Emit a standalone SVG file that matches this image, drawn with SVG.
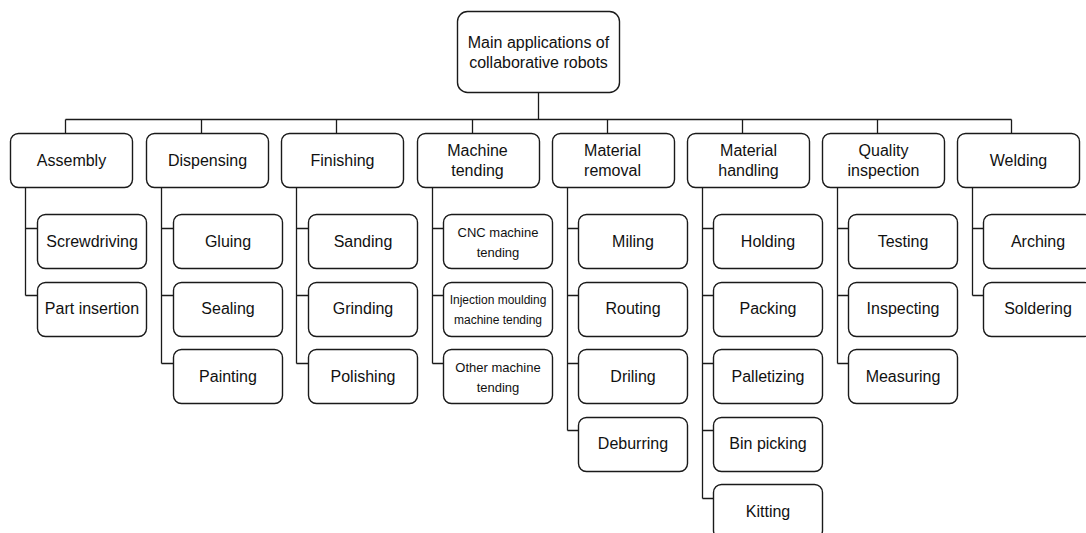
<svg xmlns="http://www.w3.org/2000/svg" width="1086" height="533" viewBox="0 0 1086 533">
  <style>
    .box { fill: #ffffff; stroke: #1a1a1a; stroke-width: 1.4; }
    .wire { fill: none; stroke: #1a1a1a; stroke-width: 1.3; }
    text { font-family: "Liberation Sans", Arial, sans-serif; fill: #111111; text-anchor: middle; }
    .t16 { font-size: 16px; }
    .t13 { font-size: 13px; }
    .t12 { font-size: 12px; }
  </style>
  <rect width="1086" height="533" fill="#ffffff"/>

  <!-- connectors -->
  <g id="connectors" class="wire">
    <!-- root to bus -->
    <path d="M538.5 92 V119.5"/>
    <path d="M65.5 119.5 H1011.5"/>
    <!-- bus to categories -->
    <path d="M65.5 119.5 V133 M201.5 119.5 V133 M336.5 119.5 V133 M472.5 119.5 V133 M607.5 119.5 V133 M742.5 119.5 V133 M877.5 119.5 V133 M1011.5 119.5 V133"/>
    <!-- Assembly -->
    <path d="M25.5 187 V228.5 H37 M25.5 295.5 H37 M25.5 228 V295.5"/>
    <!-- Dispensing -->
    <path d="M161.5 187 V363.5 M161.5 228.5 H173 M161.5 295.5 H173 M161.5 363.5 H173"/>
    <!-- Finishing -->
    <path d="M296.5 187 V363.5 M296.5 228.5 H308 M296.5 295.5 H308 M296.5 363.5 H308"/>
    <!-- Machine tending -->
    <path d="M432.5 187 V363.5 M432.5 228.5 H444 M432.5 295.5 H444 M432.5 363.5 H444"/>
    <!-- Material removal -->
    <path d="M567.5 187 V430.5 M567.5 228.5 H579 M567.5 295.5 H579 M567.5 363.5 H579 M567.5 430.5 H579"/>
    <!-- Material handling -->
    <path d="M702.5 187 V498.5 M702.5 228.5 H714 M702.5 295.5 H714 M702.5 363.5 H714 M702.5 430.5 H714 M702.5 498.5 H714"/>
    <!-- Quality inspection -->
    <path d="M837.5 187 V363.5 M837.5 228.5 H849 M837.5 295.5 H849 M837.5 363.5 H849"/>
    <!-- Welding -->
    <path d="M972.5 187 V295.5 M972.5 228.5 H984 M972.5 295.5 H984"/>
  </g>

  <!-- root -->
  <g id="root">
    <rect class="box" x="457.5" y="11.5" width="162" height="81" rx="10"/>
    <text class="t16" x="538.5" y="47.5">Main applications of</text>
    <text class="t16" x="538.5" y="67.5">collaborative robots</text>
  </g>

  <!-- categories -->
  <g id="cat-assembly">
    <rect class="box" x="10.5" y="133.5" width="122" height="54" rx="8"/>
    <text class="t16" x="71.5" y="166">Assembly</text>
  </g>
  <g id="cat-dispensing">
    <rect class="box" x="146.5" y="133.5" width="122" height="54" rx="8"/>
    <text class="t16" x="207.5" y="166">Dispensing</text>
  </g>
  <g id="cat-finishing">
    <rect class="box" x="281.5" y="133.5" width="122" height="54" rx="8"/>
    <text class="t16" x="342.5" y="166">Finishing</text>
  </g>
  <g id="cat-machine-tending">
    <rect class="box" x="417.5" y="133.5" width="122" height="54" rx="8"/>
    <text class="t16" x="477.5" y="156">Machine</text>
    <text class="t16" x="477.5" y="175.5">tending</text>
  </g>
  <g id="cat-material-removal">
    <rect class="box" x="552.5" y="133.5" width="122" height="54" rx="8"/>
    <text class="t16" x="612.5" y="156">Material</text>
    <text class="t16" x="612.5" y="175.5">removal</text>
  </g>
  <g id="cat-material-handling">
    <rect class="box" x="687.5" y="133.5" width="122" height="54" rx="8"/>
    <text class="t16" x="748.5" y="156">Material</text>
    <text class="t16" x="748.5" y="175.5">handling</text>
  </g>
  <g id="cat-quality-inspection">
    <rect class="box" x="822.5" y="133.5" width="122" height="54" rx="8"/>
    <text class="t16" x="883.5" y="156">Quality</text>
    <text class="t16" x="883.5" y="175.5">inspection</text>
  </g>
  <g id="cat-welding">
    <rect class="box" x="957.5" y="133.5" width="122" height="54" rx="8"/>
    <text class="t16" x="1018.5" y="166">Welding</text>
  </g>

  <!-- Assembly children -->
  <g id="screwdriving">
    <rect class="box" x="37.5" y="214.5" width="109" height="54" rx="8"/>
    <text class="t16" x="92" y="246.5">Screwdriving</text>
  </g>
  <g id="part-insertion">
    <rect class="box" x="37.5" y="282.5" width="109" height="54" rx="8"/>
    <text class="t16" x="92" y="314">Part insertion</text>
  </g>

  <!-- Dispensing children -->
  <g id="gluing">
    <rect class="box" x="173.5" y="214.5" width="109" height="54" rx="8"/>
    <text class="t16" x="228" y="246.5">Gluing</text>
  </g>
  <g id="sealing">
    <rect class="box" x="173.5" y="282.5" width="109" height="54" rx="8"/>
    <text class="t16" x="228" y="314">Sealing</text>
  </g>
  <g id="painting">
    <rect class="box" x="173.5" y="349.5" width="109" height="54" rx="8"/>
    <text class="t16" x="228" y="381.5">Painting</text>
  </g>

  <!-- Finishing children -->
  <g id="sanding">
    <rect class="box" x="308.5" y="214.5" width="109" height="54" rx="8"/>
    <text class="t16" x="363" y="246.5">Sanding</text>
  </g>
  <g id="grinding">
    <rect class="box" x="308.5" y="282.5" width="109" height="54" rx="8"/>
    <text class="t16" x="363" y="314">Grinding</text>
  </g>
  <g id="polishing">
    <rect class="box" x="308.5" y="349.5" width="109" height="54" rx="8"/>
    <text class="t16" x="363" y="381.5">Polishing</text>
  </g>

  <!-- Machine tending children -->
  <g id="cnc-tending">
    <rect class="box" x="443.5" y="214.5" width="109" height="54" rx="8"/>
    <text class="t13" x="498" y="236.5">CNC machine</text>
    <text class="t13" x="498" y="256.5">tending</text>
  </g>
  <g id="injection-tending">
    <rect class="box" x="443.5" y="282.5" width="109" height="54" rx="8"/>
    <text class="t12" x="498" y="304">Injection moulding</text>
    <text class="t12" x="498" y="324">machine tending</text>
  </g>
  <g id="other-tending">
    <rect class="box" x="443.5" y="349.5" width="109" height="54" rx="8"/>
    <text class="t13" x="498" y="371.5">Other machine</text>
    <text class="t13" x="498" y="391.5">tending</text>
  </g>

  <!-- Material removal children -->
  <g id="milling">
    <rect class="box" x="578.5" y="214.5" width="109" height="54" rx="8"/>
    <text class="t16" x="633" y="246.5">Miling</text>
  </g>
  <g id="routing">
    <rect class="box" x="578.5" y="282.5" width="109" height="54" rx="8"/>
    <text class="t16" x="633" y="314">Routing</text>
  </g>
  <g id="drilling">
    <rect class="box" x="578.5" y="349.5" width="109" height="54" rx="8"/>
    <text class="t16" x="633" y="381.5">Driling</text>
  </g>
  <g id="deburring">
    <rect class="box" x="578.5" y="417.5" width="109" height="54" rx="8"/>
    <text class="t16" x="633" y="449">Deburring</text>
  </g>

  <!-- Material handling children -->
  <g id="holding">
    <rect class="box" x="713.5" y="214.5" width="109" height="54" rx="8"/>
    <text class="t16" x="768" y="246.5">Holding</text>
  </g>
  <g id="packing">
    <rect class="box" x="713.5" y="282.5" width="109" height="54" rx="8"/>
    <text class="t16" x="768" y="314">Packing</text>
  </g>
  <g id="palletizing">
    <rect class="box" x="713.5" y="349.5" width="109" height="54" rx="8"/>
    <text class="t16" x="768" y="381.5">Palletizing</text>
  </g>
  <g id="bin-picking">
    <rect class="box" x="713.5" y="417.5" width="109" height="54" rx="8"/>
    <text class="t16" x="768" y="449">Bin picking</text>
  </g>
  <g id="kitting">
    <rect class="box" x="713.5" y="484.5" width="109" height="54" rx="8"/>
    <text class="t16" x="768" y="516.5">Kitting</text>
  </g>

  <!-- Quality inspection children -->
  <g id="testing">
    <rect class="box" x="848.5" y="214.5" width="109" height="54" rx="8"/>
    <text class="t16" x="903" y="246.5">Testing</text>
  </g>
  <g id="inspecting">
    <rect class="box" x="848.5" y="282.5" width="109" height="54" rx="8"/>
    <text class="t16" x="903" y="314">Inspecting</text>
  </g>
  <g id="measuring">
    <rect class="box" x="848.5" y="349.5" width="109" height="54" rx="8"/>
    <text class="t16" x="903" y="381.5">Measuring</text>
  </g>

  <!-- Welding children -->
  <g id="arching">
    <rect class="box" x="983.5" y="214.5" width="109" height="54" rx="8"/>
    <text class="t16" x="1038" y="246.5">Arching</text>
  </g>
  <g id="soldering">
    <rect class="box" x="983.5" y="282.5" width="109" height="54" rx="8"/>
    <text class="t16" x="1038" y="314">Soldering</text>
  </g>
</svg>
